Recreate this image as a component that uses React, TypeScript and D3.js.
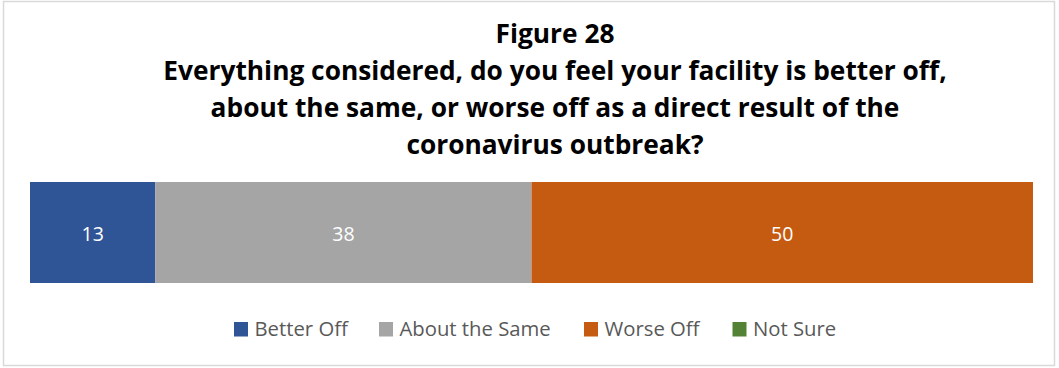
import React from "react";
import * as d3 from "d3";

const titleLines = [
  "Figure 28",
  "Everything considered, do you feel your facility is better off,",
  "about the same, or worse off as a direct result of the",
  "coronavirus outbreak?",
];
const seriesNames = ["Better Off", "About the Same", "Worse Off", "Not Sure"];
const seriesValues = [12.5, 37.5, 50, 0];
const seriesColors = ["#2F5597", "#A5A5A5", "#C55A11", "#548235"];

const W = 1059;
const H = 368;

export default function App() {
  const x = d3.scaleLinear().domain([0, 100]).range([30, 1033]);
  const y = d3.scaleBand().domain(["all"]).range([182, 283]).padding(0);
  let acc = 0;
  const stacks = seriesValues.map((v, i) => {
    const s = { name: seriesNames[i], x0: acc, x1: acc + v, v, color: seriesColors[i] };
    acc += v;
    return s;
  });
  const legendX = [234, 379, 584, 732.5];
  const font = "'Open Sans', sans-serif";
  return (
    <svg width={W} height={H} style={{ position: "absolute", left: 0, top: 0, background: "#fff" }} fontFamily={font}>
      <rect x={3.5} y={1.5} width={1051} height={364} fill="#fff" stroke="#d9d9d9" strokeWidth={1.5} />
      {titleLines.map((t, i) => (
        <text key={i} x={555} y={43 + i * 37} textAnchor="middle" fontWeight="bold" fontSize={26.3} fill="#000">
          {t}
        </text>
      ))}
      {stacks.map((s) =>
        s.v > 0 ? (
          <g key={s.name}>
            <rect x={x(s.x0)} y={y("all")} width={x(s.x1) - x(s.x0)} height={y.bandwidth()} fill={s.color} />
            <text
              x={(x(s.x0) + x(s.x1)) / 2}
              y={241}
              textAnchor="middle"
              fontSize={19.5}
              fill="#fff"
            >
              {Math.round(s.v)}
            </text>
          </g>
        ) : null
      )}
      {seriesNames.map((n, i) => (
        <g key={n}>
          <rect x={legendX[i]} y={322} width={14} height={14.5} fill={seriesColors[i]} />
          <text x={legendX[i] + 20.5} y={336} fontSize={20.3} fill="#595959">
            {n}
          </text>
        </g>
      ))}
    </svg>
  );
}
